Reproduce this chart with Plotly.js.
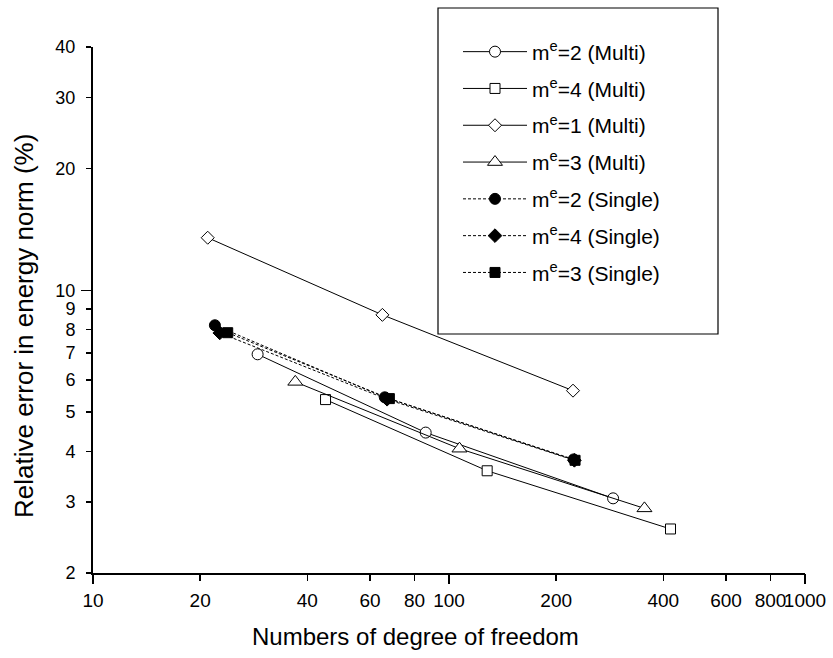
<!DOCTYPE html>
<html>
<head>
<meta charset="utf-8">
<script src="https://cdn.plot.ly/plotly-3.0.1.min.js"></script>
<style>html,body{margin:0;padding:0;background:#fff;}</style>
</head>
<body>
<div id="chart" style="width:833px;height:658px;"></div>
<script>
// Data
const m1MultiX = [21, 65, 223];
const m1MultiY = [13.5, 8.7, 5.65];
const m2MultiX = [29, 86, 289];
const m2MultiY = [6.95, 4.45, 3.06];
const m3MultiX = [37, 107, 354];
const m3MultiY = [5.94, 4.06, 2.89];
const m4MultiX = [45, 128, 419];
const m4MultiY = [5.37, 3.58, 2.57];
const m2SingleX = [22, 66, 224];
const m2SingleY = [8.2, 5.44, 3.82];
const m4SingleX = [22.7, 67, 225];
const m4SingleY = [7.85, 5.38, 3.80];
const m3SingleX = [23.9, 68, 226];
const m3SingleY = [7.86, 5.40, 3.80];

const xTickVals = [10, 20, 40, 60, 80, 100, 200, 400, 600, 800, 1000];
const xTickText = ['10', '20', '40', '60', '80', '100', '200', '400', '600', '800', '1000'];
const yTickVals = [2, 3, 4, 5, 6, 7, 8, 9, 10, 20, 30, 40];
const yTickText = ['2', '3', '4', '5', '6', '7', '8', '9', '10', '20', '30', '40'];

const FONT = 'Arial, "Liberation Sans", sans-serif';

function multi(x, y, name, symbol, size) {
  return {
    x: x, y: y, name: name, type: 'scatter', mode: 'lines+markers',
    line: {color: '#000', width: 1},
    marker: {symbol: symbol, size: size, color: '#fff', line: {color: '#000', width: 1}},
    legendgroup: name
  };
}
function single(x, y, name, symbol, size) {
  return {
    x: x, y: y, name: name, type: 'scatter', mode: 'lines+markers',
    line: {color: '#000', width: 1, dash: '3px,2px'},
    marker: {symbol: symbol, size: size, color: '#000', line: {color: '#000', width: 1}},
    legendgroup: name
  };
}

const data = [
  multi(m2MultiX, m2MultiY, 'm<sup>e</sup>=2 (Multi)', 'circle', 11),
  multi(m4MultiX, m4MultiY, 'm<sup>e</sup>=4 (Multi)', 'square', 10),
  multi(m1MultiX, m1MultiY, 'm<sup>e</sup>=1 (Multi)', 'diamond', 10),
  multi(m3MultiX, m3MultiY, 'm<sup>e</sup>=3 (Multi)', 'triangle-up', 13),
  single(m2SingleX, m2SingleY, 'm<sup>e</sup>=2 (Single)', 'circle', 11),
  single(m4SingleX, m4SingleY, 'm<sup>e</sup>=4 (Single)', 'diamond', 10.5),
  single(m3SingleX, m3SingleY, 'm<sup>e</sup>=3 (Single)', 'square', 10),
  // empty trace that hosts the long major tick marks
  {x: [], y: [], xaxis: 'x2', yaxis: 'y2', showlegend: false, hoverinfo: 'skip', type: 'scatter'}
];

const L = 93, R = 28, T = 47, B = 85;
const PW = 833 - L - R, PH = 658 - T - B;
const px = v => (v - L) / PW;
const py = v => (658 - B - v) / PH;

const layout = {
  width: 833, height: 658,
  margin: {l: L, r: R, t: T, b: B, pad: 0},
  paper_bgcolor: '#fff', plot_bgcolor: '#fff',
  font: {family: FONT, color: '#000', size: 19},
  showlegend: true,
  legend: {
    x: px(458), y: py(31.5), xanchor: 'left', yanchor: 'top',
    bgcolor: 'rgba(0,0,0,0)', borderwidth: 0,
    font: {family: FONT, size: 21, color: '#000'},
    tracegroupgap: 6.5, itemwidth: 64
  },
  xaxis: {
    type: 'log', range: [1, 3],
    tickmode: 'array', tickvals: xTickVals, ticktext: xTickText, tickangle: 0,
    ticks: 'outside', ticklen: 6, tickwidth: 1.5, tickcolor: '#000',
    showline: true, linecolor: '#000', linewidth: 2,
    showgrid: false, zeroline: false,
    tickfont: {family: FONT, size: 19, color: '#000'},
    ticklabelstandoff: 3
  },
  yaxis: {
    type: 'log', range: [Math.log10(2), Math.log10(40)],
    tickmode: 'array', tickvals: yTickVals, ticktext: yTickText,
    ticks: 'outside', ticklen: 5, tickwidth: 1.5, tickcolor: '#000',
    showline: true, linecolor: '#000', linewidth: 2,
    showgrid: false, zeroline: false,
    tickfont: {family: FONT, size: 18, color: '#000'},
    ticklabelstandoff: 7
  },
  xaxis2: {
    type: 'log', range: [1, 3], overlaying: 'x', anchor: 'y', side: 'bottom',
    tickmode: 'array', tickvals: [10, 100, 1000], showticklabels: false,
    ticks: 'outside', ticklen: 10, tickwidth: 1.5, tickcolor: '#000',
    showline: false, showgrid: false, zeroline: false
  },
  yaxis2: {
    type: 'log', range: [Math.log10(2), Math.log10(40)], overlaying: 'y', anchor: 'x', side: 'left',
    tickmode: 'array', tickvals: [10], showticklabels: false,
    ticks: 'outside', ticklen: 11, tickwidth: 1.5, tickcolor: '#000',
    showline: false, showgrid: false, zeroline: false
  },
  shapes: [{
    type: 'rect', xref: 'paper', yref: 'paper',
    x0: px(438), x1: px(718), y0: py(334), y1: py(8),
    line: {color: '#000', width: 1.2}, fillcolor: 'rgba(0,0,0,0)'
  }],
  annotations: [
    {text: 'Numbers of degree of freedom', xref: 'paper', yref: 'paper',
     x: px(415), y: py(636), xanchor: 'center', yanchor: 'middle', showarrow: false,
     font: {family: FONT, size: 24, color: '#000'}},
    {text: 'Relative error in energy norm (%)', xref: 'paper', yref: 'paper',
     x: px(24), y: py(326), xanchor: 'center', yanchor: 'middle', showarrow: false, textangle: -90,
     font: {family: FONT, size: 26, color: '#000'}}
  ]
};

Plotly.newPlot('chart', data, layout, {displayModeBar: false, staticPlot: true});
</script>
</body>
</html>
